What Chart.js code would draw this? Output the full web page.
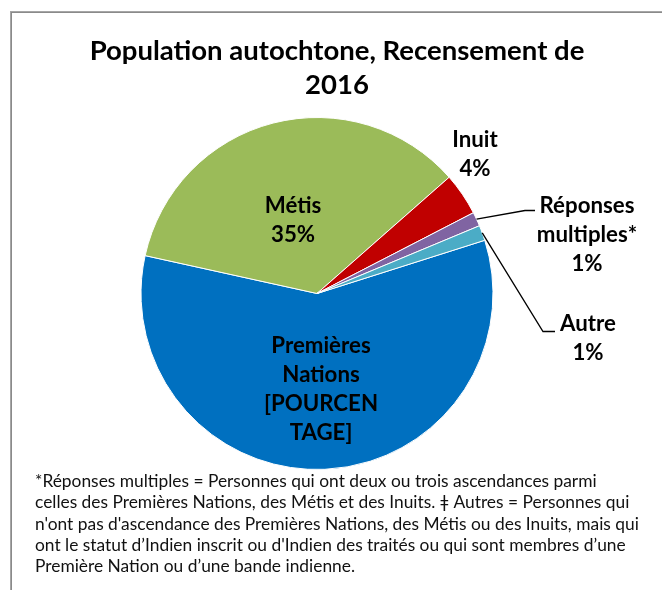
<!DOCTYPE html>
<html lang="fr">
<head>
<meta charset="utf-8">
<title>Population autochtone, Recensement de 2016</title>
<script src="https://cdn.jsdelivr.net/npm/chart.js@4"></script>
<style>
	html, body { margin: 0; padding: 0; background: #fff; }
	canvas { display: block; }
</style>
</head>
<body>
<canvas id="pie-autochtone" width="662" height="590"></canvas>
<script>
const categories = ["Premières Nations", "Métis", "Inuit", "Réponses multiples*", "Autre"];
const values = [58.4, 35.1, 3.9, 1.3, 1.4];
const colors = ["#0070C0", "#9BBB59", "#C00000", "#8064A2", "#4BACC6"];
const labelNames = [["Premières", "Nations"], ["Métis"], ["Inuit"], ["Réponses", "multiples*"], ["Autre"]];
// the first slice shows an unfilled percent field in the original
const placeholderPct = ["[POURCEN", "TAGE]"];
const titleLines = ["Population autochtone, Recensement de", "2016"];
const noteLines = [
	"*Réponses multiples = Personnes qui ont deux ou trois ascendances parmi",
	"celles des Premières Nations, des Métis et des Inuits. ǂ Autres = Personnes qui",
	"n'ont pas d'ascendance des Premières Nations, des Métis ou des Inuits, mais qui",
	"ont le statut d’Indien inscrit ou d'Indien des traités ou qui sont membres d’une",
	"Première Nation ou d’une bande indienne.",
];

(function () {
	const FONT = "Lato, 'Liberation Sans', sans-serif";
	const canvas = document.getElementById("pie-autochtone");

	// where each label sits, relative to the pie centre
	const labelPos = [
		{ dx: 4, dy: 59 },
		{ dx: -24, dy: -81 },
		{ dx: 158, dy: -147 },
		{ dx: 270, dy: -81, leader: [[208, -83], [218, -83]] },
		{ dx: 271, dy: 37, leader: [[226, 38], [238, 38]] },
	];

	function fitSize(ctx, text, weight, target) {
		ctx.font = weight + " 100px " + FONT;
		return (100 * target) / ctx.measureText(text).width;
	}

	function pctText(i) {
		if (i === 0) return placeholderPct;
		const total = values.reduce((a, b) => a + b, 0);
		return [Math.round((values[i] / total) * 100) + "%"];
	}

	const frame = {
		id: "frame",
		beforeDraw(chart) {
			const ctx = chart.ctx;
			ctx.save();
			ctx.fillStyle = "#fff";
			ctx.fillRect(0, 0, chart.width, chart.height);
			ctx.fillStyle = "#a6a6a6";
			ctx.fillRect(10, 11, chart.width, 2);
			ctx.fillRect(10, 11, 2, chart.height);
			ctx.fillStyle = "#8a8a8a";
			ctx.fillRect(11, 12, chart.width, 1);
			ctx.fillRect(11, 12, 1, chart.height);
			ctx.restore();
		},
	};

	const pieLabels = {
		id: "pieLabels",
		afterDatasetsDraw(chart) {
			const ctx = chart.ctx;
			const meta = chart.getDatasetMeta(0);
			const size = fitSize(ctx, "Réponses", "bold", 95);
			ctx.save();
			ctx.font = "bold " + size + "px " + FONT;
			ctx.fillStyle = "#000";
			ctx.strokeStyle = "#000";
			ctx.lineWidth = 1.3;
			ctx.textAlign = "center";
			ctx.textBaseline = "alphabetic";
			meta.data.forEach((arc, i) => {
				const p = labelPos[i];
				const lines = labelNames[i].concat(pctText(i));
				lines.forEach((t, k) => ctx.fillText(t, arc.x + p.dx, arc.y + p.dy + k * 29));
				if (p.leader) {
					const mid = (arc.startAngle + arc.endAngle) / 2;
					ctx.beginPath();
					ctx.moveTo(arc.x + Math.cos(mid) * arc.outerRadius, arc.y + Math.sin(mid) * arc.outerRadius);
					p.leader.forEach((pt) => ctx.lineTo(arc.x + pt[0], arc.y + pt[1]));
					ctx.stroke();
				}
			});
			ctx.restore();
		},
		afterDraw(chart) {
			const ctx = chart.ctx;
			ctx.save();
			ctx.fillStyle = "#000";
			ctx.textBaseline = "alphabetic";

			const tSize = fitSize(ctx, titleLines[0], "bold", 495);
			ctx.font = "bold " + tSize + "px " + FONT;
			ctx.textAlign = "center";
			titleLines.forEach((t, k) => ctx.fillText(t, 337, 60 + k * 34));

			const nSize = fitSize(ctx, noteLines[0], "normal", 562);
			ctx.font = "normal " + nSize + "px " + FONT;
			ctx.fillStyle = "#111";
			ctx.textAlign = "left";
			noteLines.forEach((t, k) => ctx.fillText(t, 35, 487 + k * 21.3));
			ctx.restore();
		},
	};

	new Chart(canvas, {
		type: "pie",
		data: {
			labels: categories,
			datasets: [
				{
					data: values,
					backgroundColor: colors,
					borderColor: "#ffffff",
					borderWidth: 1,
				},
			],
		},
		options: {
			responsive: false,
			animation: false,
			rotation: 72.4,
			layout: {
				padding: { left: 140, top: 117, right: 168, bottom: 120 },
			},
			plugins: {
				legend: { display: false },
				tooltip: { enabled: false },
			},
			events: [],
		},
		plugins: [frame, pieLabels],
	});
})();
</script>
</body>
</html>
